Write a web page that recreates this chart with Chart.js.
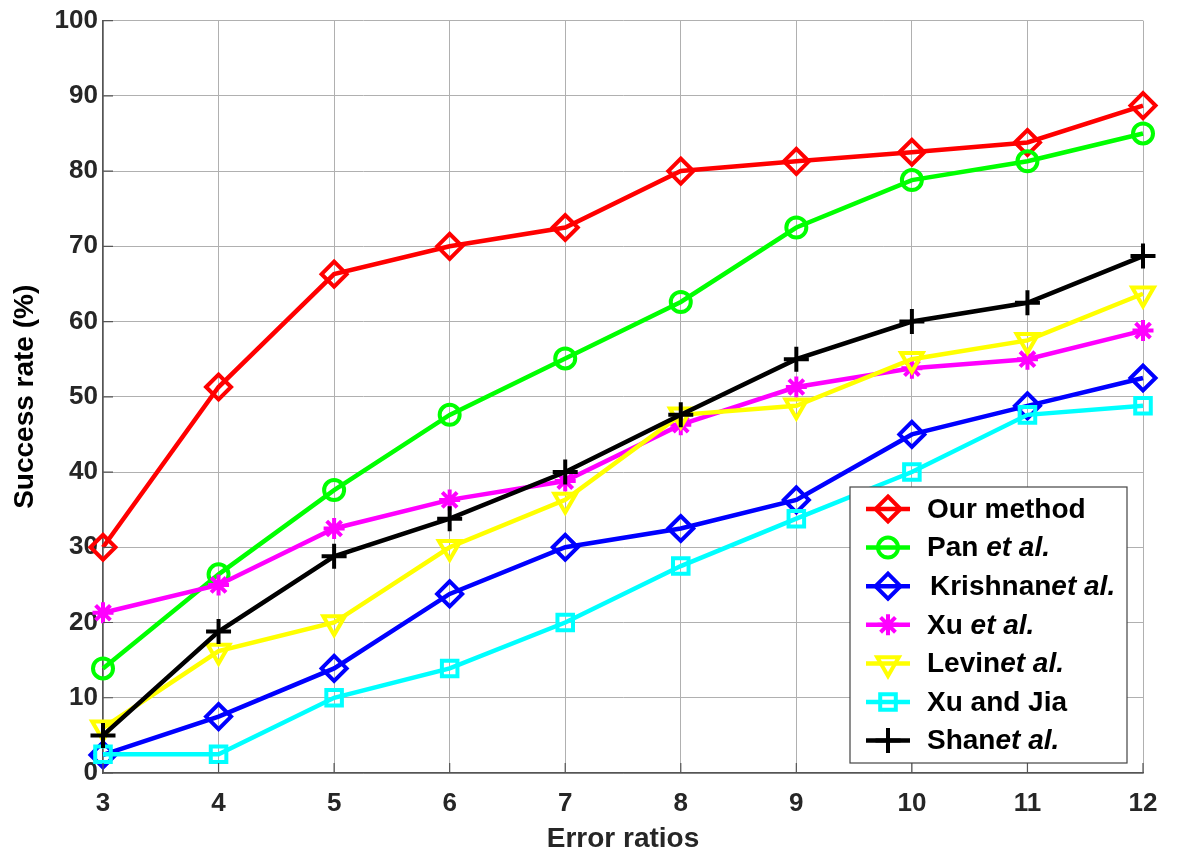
<!DOCTYPE html>
<html>
<head>
<meta charset="utf-8">
<script src="https://cdn.jsdelivr.net/npm/chart.js@4"></script>
<style>
  body { margin: 0; background: #fff; }
  #wrap { width: 1184px; height: 856px; }
</style>
</head>
<body>
<div id="wrap"><canvas id="myChart" width="1184" height="856"></canvas></div>
<script>
// data
var errorRatios = [3, 4, 5, 6, 7, 8, 9, 10, 11, 12];
var yTicks = [0, 10, 20, 30, 40, 50, 60, 70, 80, 90, 100];

var ourMethod = [30, 51.3, 66.3, 70, 72.5, 80, 81.3, 82.5, 83.8, 88.7];
var panEtAl = [13.9, 26.4, 37.6, 47.6, 55.1, 62.6, 72.5, 78.8, 81.3, 85];
var krishnanEtAl = [2.4, 7.5, 13.9, 23.8, 30, 32.5, 36.3, 45, 48.8, 52.5];
var xuEtAl = [21.3, 25, 32.5, 36.3, 38.8, 46.3, 51.3, 53.8, 55, 58.8];
var levinEtAl = [6, 16.2, 20, 30, 36.3, 47.6, 48.8, 55, 57.5, 63.7];
var xuAndJia = [2.5, 2.5, 10, 13.9, 20, 27.5, 33.8, 40, 47.6, 48.8];
var shanEtAl = [5, 18.8, 28.8, 33.8, 40, 47.6, 55, 60, 62.5, 68.7];

var seriesNames = ['Our method', 'Pan et al.', 'Krishnanet al.', 'Xu et al.', 'Levinet al.', 'Xu and Jia', 'Shanet al.'];
var seriesColors = ['#ff0000', '#00ff00', '#0000ff', '#ff00ff', '#ffff00', '#00ffff', '#000000'];
var seriesMarkers = ['diamond', 'circle', 'diamond', 'star', 'triangleDown', 'square', 'cross'];
var seriesValues = [ourMethod, panEtAl, krishnanEtAl, xuEtAl, levinEtAl, xuAndJia, shanEtAl];

var FONT = "'Liberation Sans', Arial, sans-serif";

// map marker names to chart.js point styles
function styleFor(m) {
    if (m == 'diamond') return { pointStyle: 'rectRot', radius: 12.5, rotation: 0 };
    if (m == 'circle') return { pointStyle: 'circle', radius: 10, rotation: 0 };
    if (m == 'star') return { pointStyle: 'star', radius: 10.5, rotation: 0 };
    if (m == 'triangleDown') return { pointStyle: 'triangle', radius: 12.5, rotation: 180 };
    if (m == 'square') return { pointStyle: 'rect', radius: 11, rotation: 0 };
    return { pointStyle: 'cross', radius: 12.5, rotation: 0 };
}

var datasets = seriesValues.map(function (vals, i) {
    var s = styleFor(seriesMarkers[i]);
    return {
        label: seriesNames[i],
        data: vals,
        borderColor: seriesColors[i],
        backgroundColor: 'rgba(0,0,0,0)',
        borderWidth: 4.5,
        pointStyle: s.pointStyle,
        pointRadius: s.radius,
        pointRotation: s.rotation,
        pointBorderWidth: 4,
        pointBorderColor: seriesColors[i],
        pointBackgroundColor: 'rgba(0,0,0,0)',
        tension: 0,
        order: 7 - i
    };
});

// draw a marker for the legend box
function drawMarker(ctx, m, x, y) {
    ctx.beginPath();
    if (m == 'diamond') {
        ctx.moveTo(x, y - 12.5); ctx.lineTo(x + 12.5, y); ctx.lineTo(x, y + 12.5); ctx.lineTo(x - 12.5, y); ctx.closePath();
    } else if (m == 'circle') {
        ctx.arc(x, y, 10, 0, Math.PI * 2);
    } else if (m == 'star') {
        for (var k = 0; k < 4; k++) {
            var a = k * Math.PI / 4;
            ctx.moveTo(x - 10.5 * Math.cos(a), y - 10.5 * Math.sin(a));
            ctx.lineTo(x + 10.5 * Math.cos(a), y + 10.5 * Math.sin(a));
        }
    } else if (m == 'triangleDown') {
        ctx.moveTo(x, y + 12.5); ctx.lineTo(x - 10.8, y - 6.2); ctx.lineTo(x + 10.8, y - 6.2); ctx.closePath();
    } else if (m == 'square') {
        ctx.rect(x - 7.8, y - 7.8, 15.6, 15.6);
    } else {
        ctx.moveTo(x - 12.5, y); ctx.lineTo(x + 12.5, y);
        ctx.moveTo(x, y - 12.5); ctx.lineTo(x, y + 12.5);
    }
    ctx.stroke();
}

var boxLegend = {
    id: 'boxLegend',
    afterDraw: function (chart) {
        var ctx = chart.ctx;
        var xs = chart.scales.x, ys = chart.scales.y;
        ctx.save();
        // inward tick marks like the original axes
        ctx.strokeStyle = '#555';
        ctx.lineWidth = 1.2;
        ctx.beginPath();
        yTicks.forEach(function (t) {
            var py = ys.getPixelForValue(t);
            ctx.moveTo(xs.left, py); ctx.lineTo(xs.left + 10, py);
        });
        errorRatios.forEach(function (t, i) {
            var px = xs.getPixelForValue(i);
            ctx.moveTo(px, ys.bottom); ctx.lineTo(px, ys.bottom - 10);
        });
        ctx.stroke();

        // legend box
        var bx = 850, by = 487, bw = 277, bh = 276;
        ctx.fillStyle = '#fff';
        ctx.fillRect(bx, by, bw, bh);
        ctx.strokeStyle = '#444';
        ctx.lineWidth = 1.2;
        ctx.strokeRect(bx, by, bw, bh);
        ctx.textBaseline = 'middle';
        seriesNames.forEach(function (name, i) {
            var cy = by + 22 + i * 38.6;
            ctx.strokeStyle = seriesColors[i];
            ctx.lineWidth = 4.5;
            ctx.beginPath();
            ctx.moveTo(866, cy); ctx.lineTo(910, cy);
            ctx.stroke();
            ctx.lineWidth = 4;
            drawMarker(ctx, seriesMarkers[i], 888, cy);
            ctx.fillStyle = '#000';
            var tx = i == 2 ? 930 : 927;
            var cut = name.indexOf('et al.');
            var plain = cut >= 0 ? name.slice(0, cut) : name;
            ctx.font = 'bold 28px ' + FONT;
            ctx.fillText(plain, tx, cy + 1);
            if (cut >= 0) {
                tx += ctx.measureText(plain).width;
                ctx.font = 'italic bold 28px ' + FONT;
                ctx.fillText('et al.', tx, cy + 1);
            }
        });
        ctx.restore();
    }
};

var ctx = document.getElementById('myChart').getContext('2d');
var chart = new Chart(ctx, {
    type: 'line',
    data: {
        labels: errorRatios,
        datasets: datasets
    },
    options: {
        responsive: false,
        animation: false,
        devicePixelRatio: 1,
        layout: { padding: { top: 16, right: 41, left: 0, bottom: 0 } },
        plugins: {
            legend: { display: false },
            tooltip: { enabled: false }
        },
        scales: {
            x: {
                offset: false,
                border: { color: '#555', width: 1.5 },
                grid: { color: '#b0b0b0', lineWidth: 1, drawTicks: false },
                ticks: { color: '#262626', padding: 15, font: { family: FONT, size: 26, weight: 'bold' } },
                title: {
                    display: true, text: 'Error ratios', color: '#262626',
                    font: { family: FONT, size: 28, weight: 'bold' }, padding: { top: 0, bottom: 0 }
                },
                afterFit: function (s) { s.height = 83; }
            },
            y: {
                min: 0, max: 100,
                border: { color: '#555', width: 1.5 },
                grid: { color: '#b0b0b0', lineWidth: 1, drawTicks: false },
                ticks: { stepSize: 10, color: '#262626', padding: 5, font: { family: FONT, size: 26, weight: 'bold' } },
                title: {
                    display: true, text: 'Success rate (%)', color: '#000',
                    font: { family: FONT, size: 28, weight: 'bold' }, padding: { top: 8, bottom: 0 }
                },
                afterFit: function (s) { s.width = 103; }
            }
        }
    },
    plugins: [boxLegend]
});
</script>
</body>
</html>
